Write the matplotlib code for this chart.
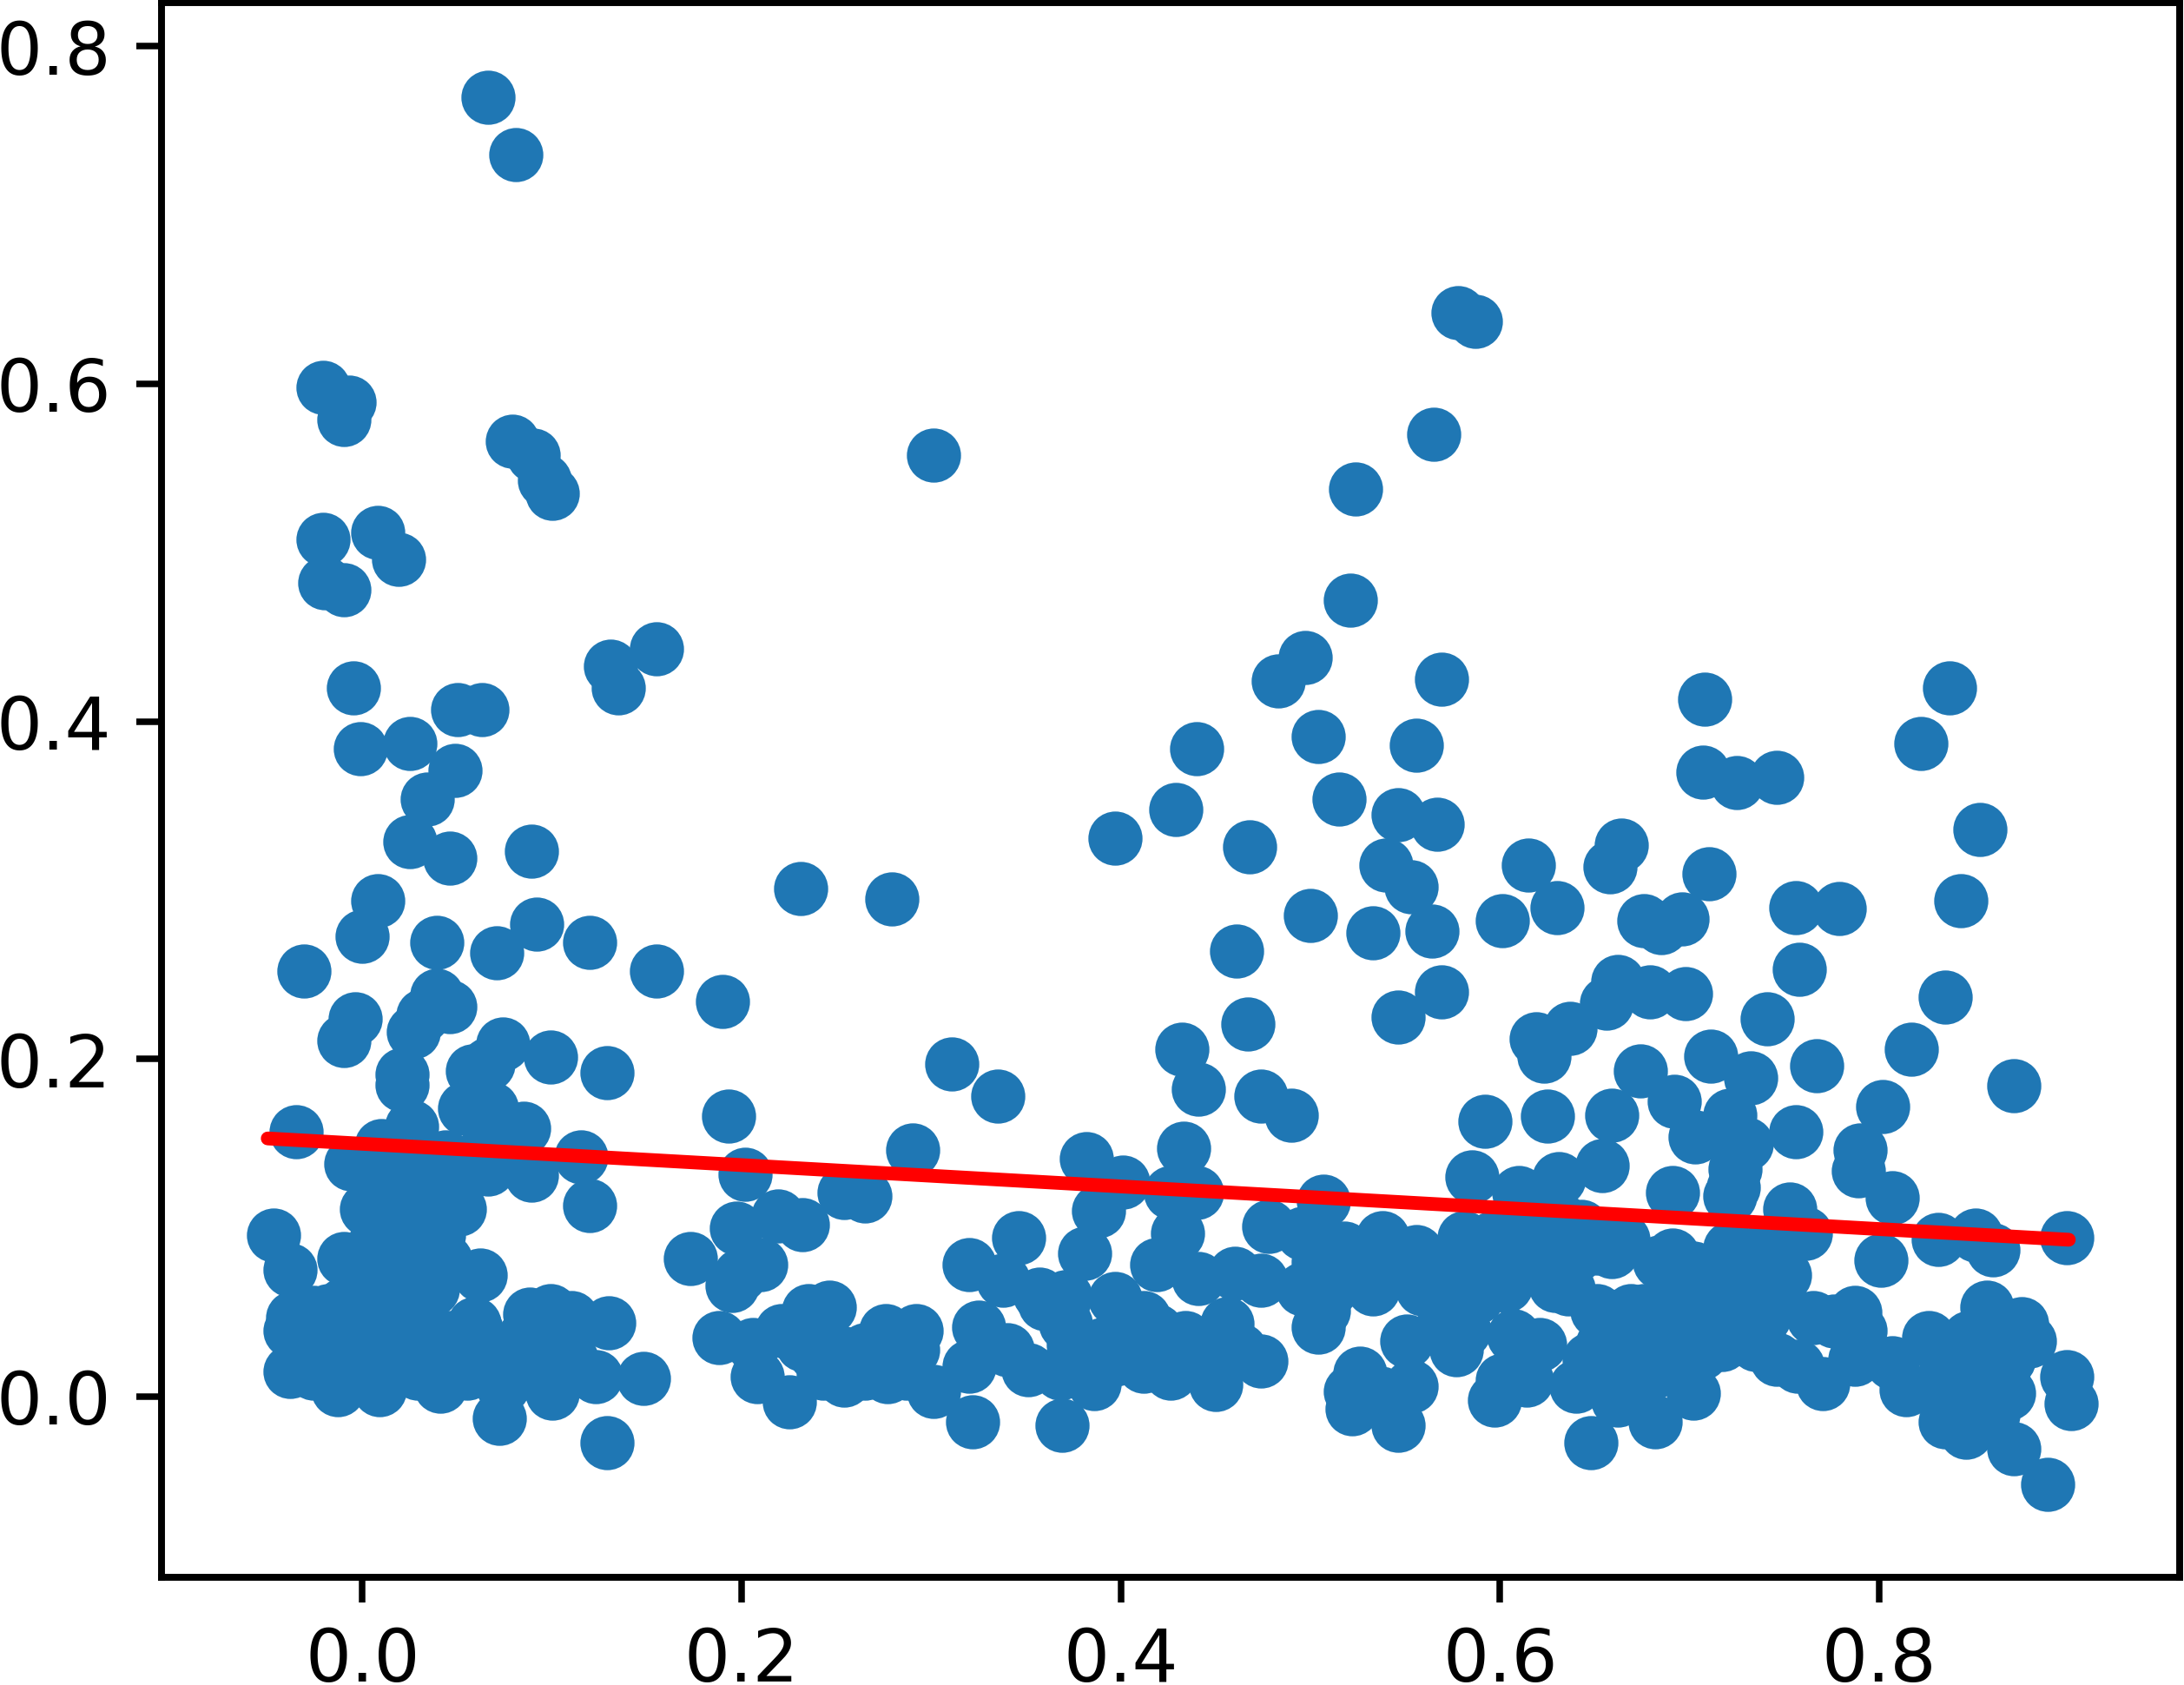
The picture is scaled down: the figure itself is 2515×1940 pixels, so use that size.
import matplotlib
matplotlib.use("Agg")
import matplotlib.pyplot as plt

# upper scatter
x_upper = [.066, .081, -.021, -.007, -.010, .079, .090, .096, .100, .301, .578, .587, .565, .524, .521,
           -.021, .008, .019, -.020, -.010, -.005, -.001, .025, .050, .063, .131, .135, .155, .483, .497,
           .569, .708, .837, .822, .504, .440, .556, .707, .725, .746, .049, .034, .025, .046, .089,
           .429, .515, .546, .567, .853, .397, .468, .664, .658, .615, .540, .553, .710, .231, .279,
           .008, .000, .092, .120, .039, .071, -.031, .155, .500, .533, .564, .601, .630, .676, .685,
           .696, .756, .779, .843, .461, .758, .662, .679, .656, .698, .569, .546, .637, .835, .741,
           .467, .190, -.004, -.010, .039, .046, .032, .027, .074]
y_upper = [.770, .736, .598, .589, .579, .566, .558, .543, .535, .558, .642, .637, .570, .538, .472,
           .508, .512, .496, .482, .478, .420, .384, .387, .407, .407, .433, .420, .443, .424, .438,
           .425, .413, .420, .387, .391, .384, .386, .370, .364, .367, .371, .354, .329, .319, .323,
           .348, .354, .345, .339, .336, .331, .326, .327, .314, .315, .315, .302, .310, .301, .295,
           .294, .273, .280, .269, .269, .263, .252, .252, .285, .275, .276, .282, .290, .282, .278,
           .283, .290, .289, .294, .264, .253, .246, .240, .233, .239, .240, .225, .218, .237, .224,
           .221, .234, .224, .211, .238, .231, .226, .216, .209]

# middle band around the fit line
x_mid = [.619, .623, .432, .817, .711, .099, .021, .021, .066, .058, .129, .311, .767, .674, .732,
         .335, .441, .474, .871, .692, .802, .490, .721, .193, .625, .659, .592, .756, .703, .730,
         -.035, .054, .068, .026, .085, .010, .290, .433, .790, .382, -.006, .115, .202, .654, .789,
         .724, .401, .585, .631, .089, .066, .037, .015, .723, .426, .440, .691, .610, .721, .254,
         .265, .507, .120, .807, .388, .051, .002, .753, .219, .197, .232, .478, .496, .430, .643,
         .618, .581, .596, .761, -.047, .346, .538, .665, .831, .851, .899, .860, .659, .381, .556,
         .518, .721, .743, .173, -.010, .801, .320, .419, .210, .684, -.038, .199, .750, .338, .441,
         .460, .062, .474, .551, .533, .603, .629, .577, .195, .496, .744, .357, .588, .371, .397, .710]
y_mid = [.212, .202, .206, .206, .202, .201, .191, .185, .197, .193, .192, .197, .196, .193, .189,
         .178, .182, .178, .184, .175, .172, .167, .167, .166, .166, .167, .163, .157, .154, .150,
         .157, .171, .171, .160, .159, .149, .146, .147, .146, .141, .138, .142, .132, .137, .134,
         .135, .127, .130, .129, .131, .135, .134, .130, .124, .121, .121, .121, .121, .119, .121,
         .119, .116, .113, .118, .110, .111, .111, .111, .107, .100, .102, .101, .097, .097, .101,
         .101, .094, .094, .097, .096, .094, .094, .093, .093, .096, .094, .087, .086, .085, .086,
         .088, .088, .092, .082, .082, .081, .078, .078, .078, .080, .075, .072, .072, .069, .070,
         .073, .072, .069, .078, .064, .066, .066, .080, .066, .064, .055, .061, .059, .059, .058, .064]

# dense blob at the lower left
x_blob = [.007, .018, .029, .040, .011, .022, .033, .044, .004, .015, .026, .037, .007, .018, .029,
          .012, .024, .036, .018, .030, -.026, -.010, .003, .028, .045, .060, .075, .000, .015, .035,
          -.026, -.011, -.026, -.004, .004, .044, .059, .066, .055, .085, .099, .110, .085, .074, .029,
          .018, .033, .051, .066, .044]
y_blob = [.093, .100, .096, .096, .081, .081, .077, .081, .064, .064, .064, .064, .047, .047, .047,
          .120, .115, .120, .140, .140, .050, .055, .040, .030, .035, .040, .028, .020, .020, .015,
          .031, .022, .014, .035, .014, .031, .043, .022, .014, .035, .022, .022, .014, .006, .014,
          .022, .031, .134, .150, .142]

# low band, left to right
x_low = [-.038, -.013, .009, .041, .072, .100, .123, .129, .148, .130, .099, .088, .110, -.038, -.037,
         -.018, .055, .080, .105, .188, .206, .208, .225, .221, .235, .246, .239, .254, .254, .276,
         .277, .292, .290, .265, .279, .301, .322, .325, .320, .340, .351, .369, .360, .371, .375,
         .368, .386, .374, .397, .412, .419, .412, .426, .450, .456, .463, .474, .441, .397, .423,
         .507, .504, .526, .521, .522, .546, .553, .537, .551, .577, .570, .597, .607, .601, .614,
         .621, .640, .648, .651, .662, .669, .654, .673, .684, .682, .702, .691, .702, .717, .713,
         .735, .746, .757, .770, .765, .776, .787, .790, .787, .807, .814, .826, .847, .857, .875,
         .879, .868, .849, .835, .846, .860, .871, .889, .899, .901, .853, .868, .838,
         .691, .702, .713, .728, .691, .706, .721, .735]
y_low = [.015, .004, .004, .006, -.013, .002, .012, -.027, .011, .044, .051, .049, .047, .039, .047,
         .051, .025, .020, .030, .035, .031, .012, -.003, .039, .051, .053, .025, .026, .010, .039,
         .012, .039, .028, .028, .026, .003, -.015, .041, .018, .028, .016, -.017, .055, .043, .031,
         .014, .008, .022, .035, .047, .039, .018, .014, .007, .043, .028, .021, .026, .022, .031,
         .051, .041, .014, .003, -.007, -.017, .006, .002, .033, .028, .043, -.002, .036, .010, .010,
         .031, .006, -.027, .051, -.002, .051, .031, .026, .039, -.015, .002, .022, .043, .031, .051,
         .031, .022, .018, .008, .047, .045, .050, .039, .022, .020, .004, .035, .035, .053, .043,
         .033, .022, .014, -.015, -.021, -.011, -.031, -.052, .012, -.004, .002, .002, .010,
         .084, .076, .072, .080, .060, .060, .060, .064]

# points hidden in the overlapping stretches of the band
x_fill = [.596, .610, .625, .640, .614, .632, .651, .636, .662, .647, .662, .676, .680, .721, .728,
          .706, .739, .691, .838, .853, .838, .860, .864, .853, .835, .390, .404, .434, .449, .426,
          .382, .265, .243, .287, .232, .559, .570, .559, .574, .588, .537, .522, .581, .504, .511]
y_fill = [.080, .084, .080, .084, .105, .105, .088, .064, .039, .022, .022, .051, .014, .047, .043,
          .026, .047, .047, .002, -.015, -.007, .010, .039, .022, .022, .031, .039, .035, .022, .022,
          .022, .014, .014, .014, .031, .080, .064, .064, .047, .076, .080, .072, .039, .080, .064]

x_fit = [-.05, .90]
y_fit = [.153, .093]

x_ticks = [0.0, 0.2, 0.4, 0.6, 0.8]
y_ticks = [0.0, 0.2, 0.4, 0.6, 0.8]

W, H, DPI = 2515, 1940, 600

# small nudge so the pixel count does not round down
fig = plt.figure(figsize=((W + 0.1) / DPI, (H + 0.1) / DPI), dpi=DPI)
ax = fig.add_axes([186 / W, 1 - 1816 / H, (2510 - 186) / W, (1816 - 3) / H])

ax.scatter(x_upper + x_mid + x_blob + x_low + x_fill,
           y_upper + y_mid + y_blob + y_low + y_fill, s=42)
ax.plot(x_fit, y_fit, color="red", linewidth=1.9, solid_capstyle="round")

ax.set_xlim(-0.106, 0.9585)
ax.set_ylim(-0.107, 0.826)
ax.set_xticks(x_ticks)
ax.set_yticks(y_ticks)
for side in ax.spines.values():
    side.set_linewidth(0.95)
ax.tick_params(width=0.9)
ax.tick_params(axis="x", pad=3.2)

fig.savefig("out.png", dpi=DPI)
